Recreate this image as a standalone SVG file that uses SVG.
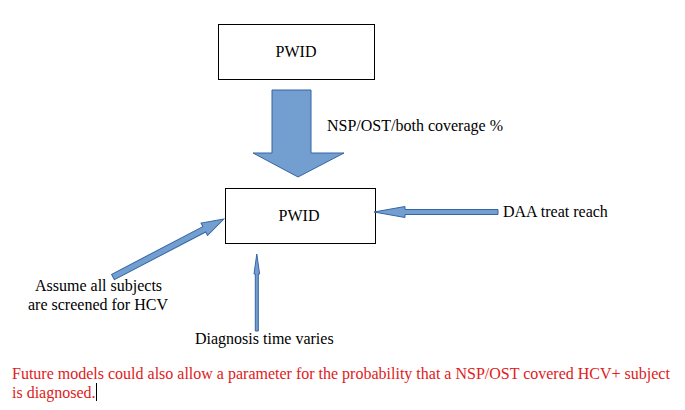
<svg xmlns="http://www.w3.org/2000/svg" width="685" height="410" viewBox="0 0 685 410">
<style>
.box{fill:#fff;stroke:#000;stroke-width:1}
.t{font-family:"Liberation Serif",serif;font-size:16px;fill:#000}
.red{font-family:"Liberation Serif",serif;font-size:16px;fill:#e0201b}
.arr{fill:#729fcf;stroke:#3465a4;stroke-width:1}
</style>
<rect width="685" height="410" fill="#fff"/>
<g id="pwid-top">
<rect class="box" x="218.5" y="24.5" width="156" height="55"/>
<text class="t" x="296" y="57" text-anchor="middle">PWID</text>
</g>
<g id="pwid-main">
<rect class="box" x="225.5" y="188.5" width="150" height="55"/>
<text class="t" x="299" y="221" text-anchor="middle">PWID</text>
</g>
<g id="connectors">
<polygon class="arr" points="272,90 311,90 311,153 344,153 298,177 253,153 272,153"/>
<polygon class="arr" points="498,209.5 405,209.5 405,206.5 374,212 405,217.5 405,214.5 498,214.5"/>
<polygon class="arr" transform="translate(113,277) rotate(-27.6)" points="0,-3 103,-3 103,-7 125,0 103,7 103,3 0,3"/>
<polygon class="arr" points="255.3,331 255.3,274 254,274 256.8,254 259.6,274 258.3,274 258.3,331"/>
</g>
<g id="labels">
<text class="t" x="327" y="131">NSP/OST/both coverage %</text>
<text class="t" x="503" y="217">DAA treat reach</text>
<text class="t" x="35" y="291">Assume all subjects</text>
<text class="t" x="28" y="310">are screened for HCV</text>
<text class="t" x="195" y="344">Diagnosis time varies</text>
<text class="red" x="12" y="379">Future models could also allow a parameter for the probability that a NSP/OST covered HCV+ subject</text>
<text class="red" x="12" y="398">is diagnosed.</text>
<line x1="96.5" y1="383" x2="96.5" y2="401" stroke="#000" stroke-width="1"/>
</g>
</svg>
